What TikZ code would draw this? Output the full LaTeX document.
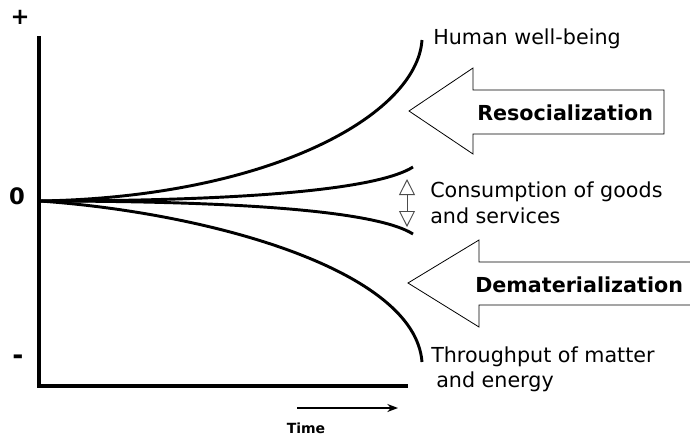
\documentclass[tikz,border=0pt]{standalone}
\usepackage{fontspec}
\setmainfont{DejaVu Sans}
\usetikzlibrary{arrows.meta}
\begin{document}
\begin{tikzpicture}[x=0.75pt,y=-0.75pt,
  axis/.style={line width=2.3pt},
  curve/.style={line width=2.2pt},
  bigarrow/.style={draw,line width=0.6pt,fill=white},
  lbl/.style={anchor=base west,inner sep=0pt,font=\fontsize{15.5}{18}\selectfont},
  blbl/.style={anchor=base west,inner sep=0pt,font=\fontsize{15.5}{18}\selectfont\bfseries},
  sign/.style={inner sep=0pt,font=\fontsize{17}{20}\selectfont\bfseries}]
\useasboundingbox (0,0) rectangle (690,437);
% axes
\coordinate (top) at (39,36);
\coordinate (orig) at (39,386);
\coordinate (xend) at (408,386);
\draw[axis] (top) -- (orig) -- (xend);
% signs
\node[sign] (plus) at (20,17) {+};
\node[sign] (zero) at (17,196) {0};
\node[sign,font=\fontsize{20}{22}\selectfont\bfseries] (minus) at (18,360) {-};
% curves
\coordinate (start) at (40,201);
\coordinate (hw) at (422,40);
\coordinate (cu) at (413,167);
\coordinate (cl) at (413,234);
\coordinate (tp) at (422,362);
\draw[curve] (start) .. controls (270,197) and (417,115) .. (hw);
\draw[curve] (start) .. controls (260,201) and (380,188) .. (cu);
\draw[curve] (start) .. controls (260,201) and (380,213) .. (cl);
\draw[curve] (start) .. controls (210,213) and (415,270) .. (tp);
% labels
\node[lbl] (hwl) at (433,44) {Human well-being};
\node[lbl] (cons1) at (430,197) {Consumption of goods};
\node[lbl] (cons2) at (430,223) {and services};
\node[lbl] (tp1) at (431,362) {Throughput of matter};
\node[lbl] (tp2) at (436,387) {and energy};
% small double arrow
\coordinate (da1) at (407,179);
\coordinate (da2) at (407,227);
\draw[line width=0.7pt,draw=black!70,{Triangle[open,length=12pt,width=12pt]}-{Triangle[open,length=12pt,width=12pt]}] (da1) -- (da2);
% big arrows
\draw[bigarrow] (409,111) -- (473,68) -- (473,90) -- (664,90) -- (664,134) -- (473,134) -- (473,154) -- cycle;
\node[blbl] (reso) at (477,120) {Resocialization};
\draw[bigarrow] (692,262) -- (479,262) -- (479,240) -- (408,283) -- (479,327) -- (479,305) -- (692,305);
\node[blbl] (demat) at (475,292) {Dematerialization};
% time arrow
\coordinate (t1) at (297,408);
\coordinate (t2) at (398,408);
\draw[line width=1pt,-{Stealth[length=8pt,width=6pt]}] (t1) -- (t2);
\node[inner sep=0pt,font=\fontsize{10.5}{12}\selectfont\bfseries] (time) at (306,428) {Time};
\end{tikzpicture}
\end{document}
